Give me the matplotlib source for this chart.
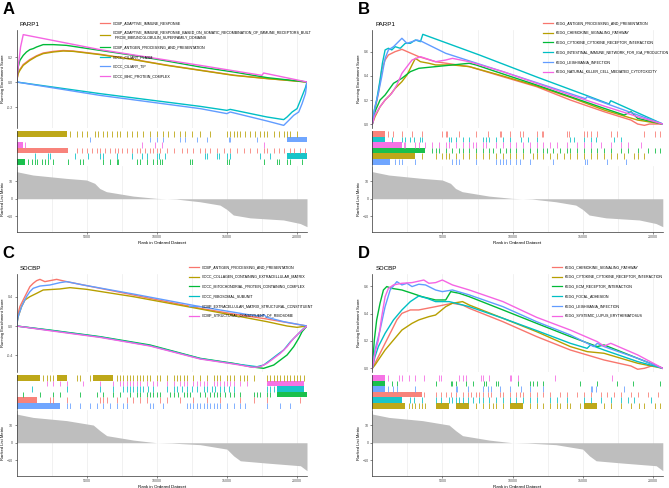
import matplotlib.pyplot as plt
from matplotlib.lines import Line2D

plt.rcParams['font.family'] = ['Liberation Sans', 'DejaVu Sans']

W, H = 669, 488
n_genes = 20700
hue = ['#F8766D', '#B79F00', '#00BA38', '#00BFC4', '#619CFF', '#F564E3']

# ranked list metric (same ranking used for the gene's two panels)
parp1_rank = [0, 1170, 3550, 4980, 5570, 5930, 6400, 8310, 9980, 10690, 11400, 13070, 14500, 14980, 15450, 16640, 19020, 20210, 20700]
parp1_metric = [15.3, 13.4, 11.5, 10.6, 8.7, 5.8, 4.0, 1.5, 0.2, 0, -0.2, -1.7, -3.6, -6, -9.2, -10.8, -12, -14, -15.8]
sdcbp_rank = [0, 1190, 3570, 5470, 5950, 6430, 8330, 9520, 10000, 11070, 13090, 14990, 15470, 15950, 17850, 20230, 20700]
sdcbp_metric = [16.2, 14.3, 12.5, 10.0, 6.8, 4.0, 1.5, 0.4, 0, -0.2, -1.1, -3.6, -7.4, -10.2, -11.5, -13, -15.8]

# ---------------- panel A ----------------
a_names = ['GOBP_ADAPTIVE_IMMUNE_RESPONSE',
           'GOBP_ADAPTIVE_IMMUNE_RESPONSE_BASED_ON_SOMATIC_RECOMBINATION_OF_IMMUNE_RECEPTORS_BUILT\n  FROM_IMMUNOGLOBULIN_SUPERFAMILY_DOMAINS',
           'GOBP_ANTIGEN_PROCESSING_AND_PRESENTATION',
           'GOCC_CILIARY_PLASM',
           'GOCC_CILIARY_TIP',
           'GOCC_MHC_PROTEIN_COMPLEX']
a_es_red = [(0, 0), (120, 0.075), (240, 0.1), (480, 0.14), (950, 0.18), (1430, 0.21), (1900, 0.232), (2620, 0.245), (3330, 0.252), (4040, 0.248), (5950, 0.222), (8330, 0.181), (10710, 0.135), (13090, 0.095), (15470, 0.055), (17850, 0.028), (20700, 0)]
a_es_gold = [(0, 0), (120, 0.067), (240, 0.093), (480, 0.133), (950, 0.173), (1430, 0.205), (1900, 0.227), (2620, 0.24), (3330, 0.248), (4040, 0.245), (5950, 0.219), (8330, 0.179), (10710, 0.133), (13090, 0.093), (15470, 0.053), (17850, 0.027), (20700, 0)]
a_es_green = [(0, 0), (120, 0.12), (240, 0.173), (480, 0.213), (710, 0.24), (950, 0.259), (1190, 0.267), (1430, 0.28), (1900, 0.299), (2620, 0.299), (3570, 0.293), (5950, 0.253), (8330, 0.213), (10710, 0.168), (13090, 0.12), (15470, 0.08), (17850, 0.035), (20700, 0)]
a_es_cyan = [(0, 0), (5950, -0.093), (13090, -0.195), (14990, -0.227), (15230, -0.219), (17850, -0.28), (19040, -0.301), (19280, -0.28), (19640, -0.24), (19990, -0.213), (20230, -0.147), (20590, -0.045), (20700, 0)]
a_es_blue = [(0, 0), (5950, -0.107), (13090, -0.213), (14990, -0.253), (15230, -0.24), (17850, -0.312), (19040, -0.347), (19400, -0.307), (19750, -0.267), (20110, -0.24), (20350, -0.173), (20590, -0.093), (20700, 0)]
a_es_pink = [(0, 0), (120, 0.12), (290, 0.28), (480, 0.379), (5950, 0.259), (13090, 0.133), (17490, 0.053), (17610, 0.072), (20700, 0)]
a_hit_red = [4280, 4640, 5000, 5360, 5710, 5950, 6310, 6660, 7020, 7260, 7500, 7850, 8210, 8570, 8810, 9160, 9520, 9760, 10000, 10230, 10710, 11190, 11780, 12140, 12610, 13090, 13450, 13800, 14280, 14760, 15230, 15710, 16180, 16660, 17140, 17610, 17850, 18330, 18680, 19040, 19520, 19750, 20230, 20590]
a_hit_gold = [3810, 4280, 4640, 5050, 5590, 5830, 6190, 6430, 6780, 7140, 7380, 7850, 8210, 8570, 9040, 9520, 10000, 10470, 10830, 11190, 11660, 12020, 12500, 13090, 13800, 14990, 15230, 15470, 15710, 15950, 16300, 16660, 17020, 17370, 17610, 17850, 18330, 18680, 19040, 19280, 19520, 19990, 20700]
a_hit_green = [830, 1070, 1310, 1430, 1790, 2020, 2260, 2620, 3690, 4520, 4760, 6190, 6660, 7140, 7260, 8570, 8810, 9280, 9760, 10000, 10230, 10350, 12380, 12500, 14990, 15110, 17610, 18560, 18680, 19280, 19520, 20350]
a_hit_cyan = [1310, 2260, 2380, 4170, 5120, 5950, 6190, 7140, 8210, 8930, 9280, 10000, 10120, 10590, 13450, 13570, 14280, 14400, 14990, 15230, 17370, 18090]
a_hit_blue = [5240, 9520, 10000, 10470, 11660, 12020, 12850, 13570, 15110, 15230, 17140]
a_hit_pink = [600, 8930, 9880, 10350, 17610]
a_span = [[(0, 3690)], [(0, 3570)], [(0, 600)], [(19280, 20700)], [(19280, 20700)], [(0, 476)]]

# ---------------- panel B ----------------
b_names = ['KEGG_ANTIGEN_PROCESSING_AND_PRESENTATION',
           'KEGG_CHEMOKINE_SIGNALING_PATHWAY',
           'KEGG_CYTOKINE_CYTOKINE_RECEPTOR_INTERACTION',
           'KEGG_INTESTINAL_IMMUNE_NETWORK_FOR_IGA_PRODUCTION',
           'KEGG_LEISHMANIA_INFECTION',
           'KEGG_NATURAL_KILLER_CELL_MEDIATED_CYTOTOXICITY']
b_es_red = [(0, 0), (192, 0.117), (432, 0.256), (672, 0.45), (912, 0.533), (1150, 0.575), (1630, 0.603), (2110, 0.622), (3310, 0.561), (4510, 0.519), (6910, 0.478), (9310, 0.394), (11710, 0.311), (14110, 0.2), (16510, 0.103), (18430, 0.033), (18910, 0), (19390, -0.011), (19750, 0), (20700, 0)]
b_es_gold = [(0, 0), (192, 0.061), (552, 0.144), (912, 0.2), (1270, 0.242), (1630, 0.297), (2110, 0.353), (2470, 0.408), (2830, 0.492), (3070, 0.547), (3430, 0.519), (4030, 0.506), (4510, 0.492), (5710, 0.492), (6910, 0.478), (9310, 0.4), (11710, 0.317), (14110, 0.222), (16510, 0.117), (18910, 0.033), (20700, 0)]
b_es_green = [(0, 0), (192, 0.103), (552, 0.2), (912, 0.242), (1510, 0.339), (2110, 0.381), (2710, 0.436), (3310, 0.464), (4510, 0.478), (5710, 0.492), (6910, 0.506), (7390, 0.492), (9310, 0.417), (11710, 0.325), (14110, 0.228), (16510, 0.131), (17950, 0.075), (18430, 0.103), (18910, 0.047), (20700, 0)]
b_es_cyan = [(0, 0), (144, 0.117), (312, 0.2), (552, 0.367), (720, 0.506), (912, 0.617), (1150, 0.631), (1390, 0.617), (1630, 0.644), (1990, 0.631), (2350, 0.672), (2710, 0.672), (3070, 0.7), (3430, 0.686), (3600, 0.747), (7630, 0.575), (11710, 0.392), (15310, 0.236), (16870, 0.167), (16990, 0.194), (20700, 0)]
b_es_blue = [(0, 0), (192, 0.144), (432, 0.256), (672, 0.394), (912, 0.547), (1150, 0.617), (1510, 0.644), (1870, 0.686), (2110, 0.714), (2470, 0.672), (2830, 0.686), (3190, 0.7), (3550, 0.686), (5230, 0.589), (9310, 0.436), (14110, 0.253), (15190, 0.211), (15310, 0.228), (20700, 0)]
b_es_pink = [(0, 0), (192, 0.075), (552, 0.144), (912, 0.2), (1390, 0.256), (1750, 0.325), (2110, 0.422), (2470, 0.478), (2830, 0.533), (3430, 0.561), (3790, 0.547), (4510, 0.519), (5230, 0.533), (5710, 0.547), (6910, 0.519), (9310, 0.436), (11710, 0.339), (14110, 0.242), (16510, 0.15), (18910, 0.061), (20700, 0)]
b_hit_red = [1150, 1510, 2110, 2830, 3550, 4990, 5230, 5350, 6190, 7390, 8230, 9070, 9190, 9790, 10510, 10750, 11710, 12070, 12190, 13870, 13990, 15070, 15310, 15550, 16030, 16990, 17470, 19390, 20110, 20470]
b_hit_gold = [3550, 4510, 4990, 5230, 5470, 5950, 6430, 6910, 7390, 7870, 8350, 8830, 9310, 9790, 10270, 10750, 11470, 11710, 12190, 12670, 13150, 13630, 14110, 14590, 15070, 15550, 16030, 16510, 16990, 17470, 17950, 18670, 18910, 19390]
b_hit_green = [4270, 4510, 4750, 5230, 5710, 6190, 6430, 6910, 7390, 7870, 8350, 8590, 9070, 9550, 9790, 10270, 10750, 11230, 11710, 12190, 12430, 12910, 13390, 13870, 14110, 14590, 15070, 15550, 16030, 16510, 16990, 17710, 18190, 18910, 19630, 20110, 20470, 20700]
b_hit_cyan = [1390, 2110, 2350, 2710, 2950, 3430, 3550, 5470, 5590, 5950, 6430, 6910, 7870, 8110, 8350, 8830, 9310, 9790, 10630, 11110, 11710, 14110, 14350, 15070, 15550, 15910, 17230, 17710]
b_hit_blue = [1630, 1870, 2110, 3070, 5710, 5950, 6190, 7390, 8830, 9070, 9310, 9550, 9790, 10270, 10510, 11230, 12910, 15190, 15310, 16750, 18070]
b_hit_pink = [2230, 2350, 3070, 3310, 3790, 4270, 4750, 5230, 5470, 5950, 6430, 6910, 7150, 7390, 7870, 8110, 8830, 9310, 9790, 10270, 10750, 11230, 11710, 12190, 12670, 13150, 13870, 14590, 15070, 15550, 16270, 16990, 17710, 18190, 19150]
b_span = [[(0, 910)], [(0, 3070)], [(0, 3790)], [(0, 910)], [(0, 1270)], [(0, 2110)]]

# ---------------- panel C ----------------
c_names = ['GOBP_ANTIGEN_PROCESSING_AND_PRESENTATION',
           'GOCC_COLLAGEN_CONTAINING_EXTRACELLULAR_MATRIX',
           'GOCC_MITOCHONDRIAL_PROTEIN_CONTAINING_COMPLEX',
           'GOCC_RIBOSOMAL_SUBUNIT',
           'GOMF_EXTRACELLULAR_MATRIX_STRUCTURAL_CONSTITUENT',
           'GOMF_STRUCTURAL_CONSTITUENT_OF_RIBOSOME']
c_es_red = [(0, 0), (119, 0.173), (238, 0.264), (476, 0.355), (714, 0.445), (952, 0.536), (1190, 0.582), (1430, 0.618), (1670, 0.636), (2020, 0.605), (2380, 0.618), (2860, 0.636), (3570, 0.605), (5950, 0.514), (8330, 0.423), (10710, 0.332), (13090, 0.241), (15470, 0.164), (17850, 0.095), (20700, 0)]
c_es_gold = [(0, 0), (119, 0.127), (360, 0.264), (600, 0.355), (952, 0.4), (1430, 0.445), (1900, 0.491), (3090, 0.505), (3810, 0.523), (5000, 0.5), (8330, 0.4), (13090, 0.232), (17850, 0.059), (19280, 0), (19990, -0.018), (20700, 0)]
c_es_green = [(0, 0), (2380, -0.055), (5950, -0.145), (9520, -0.259), (13090, -0.441), (15470, -0.509), (16660, -0.555), (17610, -0.577), (18330, -0.532), (18800, -0.464), (19280, -0.395), (19750, -0.282), (20110, -0.168), (20350, -0.077), (20700, 0)]
c_es_cyan = [(0, 0), (2380, -0.059), (5950, -0.15), (9520, -0.268), (13090, -0.445), (15470, -0.514), (17140, -0.555), (17610, -0.532), (18090, -0.464), (18560, -0.395), (19040, -0.327), (19520, -0.214), (19990, -0.123), (20470, -0.032), (20700, 0)]
c_es_blue = [(0, 0), (119, 0.127), (360, 0.264), (714, 0.4), (952, 0.468), (1190, 0.514), (1670, 0.545), (2380, 0.559), (3090, 0.591), (3570, 0.605), (4760, 0.559), (8330, 0.436), (13090, 0.264), (16660, 0.15), (17370, 0.136), (17610, 0.155), (17850, 0.118), (19040, 0.059), (20700, 0)]
c_es_pink = [(0, 0), (2380, -0.064), (5950, -0.155), (9520, -0.273), (13090, -0.45), (15470, -0.518), (16900, -0.564), (17370, -0.555), (17850, -0.509), (18330, -0.441), (18800, -0.373), (19280, -0.282), (19750, -0.168), (20230, -0.077), (20700, 0)]
c_hit_red = [2380, 2620, 3570, 5950, 6190, 6430, 7140, 7850, 8330, 8810, 9280, 10230, 10710, 11660, 12610, 13570, 14520, 15950, 16900, 17850, 20230]
c_hit_gold = [1900, 2140, 2380, 2620, 4280, 4520, 5240, 7140, 7380, 7620, 7850, 8090, 8330, 8570, 8810, 9040, 9280, 9520, 10000, 10230, 10710, 11190, 11420, 11660, 11900, 12140, 12610, 13090, 13570, 14040, 14280, 14520, 14990, 15230, 15470, 15950, 16180, 16420, 16900, 17850, 18090, 18330, 18560, 18800, 19040, 19280, 19520, 19750, 19990, 20230, 20470, 20700]
c_hit_green = [480, 1670, 2620, 3090, 4520, 5710, 6190, 6900, 7380, 8090, 8570, 8810, 9280, 9520, 9760, 10000, 10230, 10950, 11190, 11540, 11900, 12140, 12380, 13090, 13450, 13800, 14040, 14280, 14520, 14880, 15230, 15470, 15950, 16900, 17140, 17370, 17850, 18090]
c_hit_cyan = [1070, 3570, 5950, 6900, 7620, 7850, 8090, 8330, 8570, 8810, 9040, 9400, 9760, 10710, 11190, 11420, 11780, 12140, 12500, 12850, 13330, 13570, 13920, 14160, 14520, 14760, 15110, 15470, 17850, 18090, 18330]
c_hit_blue = [3570, 3810, 4520, 5240, 5710, 6190, 6660, 7140, 7620, 7850, 9520, 9760, 10470, 12140, 12380, 12610, 12850, 13090, 13330, 13570, 13800, 14040, 14280, 14520, 14990, 15470, 15950, 16300, 17850, 18800, 19520]
c_hit_pink = [2140, 2620, 3090, 3570, 4760, 5950, 6900, 7380, 7620, 7850, 8090, 8330, 8570, 8810, 9280, 9760, 10000, 10710, 11190, 11660, 11900, 12140, 12610, 12850, 13090, 13330, 13570, 14040, 14280, 14520, 14760, 14990, 15230, 15470, 15950, 16420]
c_span = [[(0, 1430)], [(0, 1670), (2860, 3570), (5470, 6900)], [(18560, 20700)], [(18560, 20470)], [(0, 3090)], [(17850, 20470)]]

# ---------------- panel D ----------------
d_names = ['KEGG_CHEMOKINE_SIGNALING_PATHWAY',
           'KEGG_CYTOKINE_CYTOKINE_RECEPTOR_INTERACTION',
           'KEGG_ECM_RECEPTOR_INTERACTION',
           'KEGG_FOCAL_ADHESION',
           'KEGG_LEISHMANIA_INFECTION',
           'KEGG_SYSTEMIC_LUPUS_ERYTHEMATOSUS']
d_es_red = [(0, 0), (192, 0.037), (432, 0.085), (912, 0.183), (1390, 0.28), (1750, 0.354), (2110, 0.402), (2710, 0.427), (3310, 0.427), (4510, 0.451), (5710, 0.476), (6430, 0.463), (6910, 0.439), (9310, 0.341), (11710, 0.232), (14110, 0.134), (16510, 0.061), (18430, 0.017), (18910, -0.007), (19390, 0), (20110, 0.024), (20700, 0)]
d_es_gold = [(0, 0), (192, 0.024), (432, 0.061), (912, 0.134), (1510, 0.207), (2110, 0.28), (2830, 0.329), (3310, 0.354), (4030, 0.378), (4510, 0.39), (5230, 0.451), (5710, 0.476), (6430, 0.488), (6910, 0.463), (9310, 0.366), (11710, 0.268), (14110, 0.159), (15310, 0.122), (16510, 0.11), (18910, 0.037), (20700, 0)]
d_es_green = [(0, 0), (144, 0.207), (312, 0.354), (552, 0.476), (792, 0.573), (1030, 0.598), (1390, 0.585), (2110, 0.573), (2830, 0.549), (3550, 0.524), (4510, 0.5), (5230, 0.5), (5590, 0.561), (6190, 0.549), (6910, 0.524), (9310, 0.427), (11710, 0.329), (14110, 0.232), (16030, 0.159), (16510, 0.171), (18910, 0.073), (20700, 0)]
d_es_cyan = [(0, 0), (192, 0.085), (432, 0.159), (912, 0.256), (1510, 0.354), (2110, 0.427), (2710, 0.488), (3310, 0.529), (3910, 0.512), (4510, 0.488), (5470, 0.488), (5950, 0.476), (6910, 0.451), (9310, 0.366), (11710, 0.276), (14110, 0.183), (15310, 0.146), (15550, 0.171), (16510, 0.134), (18910, 0.049), (20700, 0)]
d_es_blue = [(0, 0), (192, 0.134), (552, 0.28), (912, 0.451), (1270, 0.573), (1750, 0.634), (2110, 0.61), (2470, 0.622), (2830, 0.598), (3310, 0.615), (3790, 0.61), (4510, 0.573), (4990, 0.561), (5710, 0.573), (6910, 0.537), (9310, 0.451), (11710, 0.341), (14110, 0.244), (15790, 0.159), (16030, 0.183), (16510, 0.159), (18910, 0.073), (20700, 0)]
d_es_pink = [(0, 0), (192, 0.11), (432, 0.207), (672, 0.378), (912, 0.524), (1150, 0.585), (1510, 0.61), (2110, 0.622), (2830, 0.627), (3670, 0.646), (4030, 0.622), (4510, 0.627), (4990, 0.646), (5710, 0.61), (6910, 0.573), (9310, 0.488), (11710, 0.373), (14110, 0.28), (16030, 0.195), (16510, 0.163), (16990, 0.183), (18910, 0.098), (20700, 0)]
d_hit_red = [3670, 4510, 4870, 5230, 5590, 5950, 6430, 6790, 7030, 7390, 7630, 7870, 8230, 8470, 9070, 9310, 9790, 10270, 10510, 10750, 11230, 11710, 12190, 12670, 13390, 13870, 14590, 15070, 15550, 16270, 16750, 17230, 17710, 18430, 18910, 19630, 20350]
d_hit_gold = [2590, 2830, 3070, 3310, 3550, 3790, 7390, 7870, 8350, 8590, 8830, 9310, 11230, 11710, 12190, 12670, 13150, 13390, 13870, 14110, 14830, 16510, 16990, 17710, 18430, 19030, 19390, 20110, 20470]
d_hit_green = [1390, 1750, 4510, 5590, 5710, 5950, 6670, 7150, 7990, 8110, 8830, 8950, 10390, 11230, 11470, 11710, 12190, 14830, 16030, 17470, 18550, 20470]
d_hit_cyan = [2710, 2950, 3550, 4510, 4870, 5470, 5710, 5950, 6190, 6430, 6790, 7150, 7630, 7870, 8350, 8830, 9310, 9790, 10270, 10750, 11230, 11710, 12670, 13150, 13870, 15070, 15550, 16270, 16990, 17710, 18190, 18670, 19870]
d_hit_blue = [1150, 1510, 1750, 3070, 5950, 6070, 6790, 7870, 8230, 8470, 9070, 9790, 10630, 11230, 12190, 15550, 15670, 15910, 17950]
d_hit_pink = [1150, 1870, 2110, 2590, 3070, 3670, 4750, 4870, 6190, 6430, 6670, 7750, 7870, 8350, 9790, 9910, 10390, 13030, 17110]
d_span = [[(0, 3550)], [(0, 2350), (4510, 5470), (5950, 6910), (9790, 10750), (15070, 16030)], [(0, 910)], [(0, 2110)], [(0, 910)], [(0, 910)]]

fig = plt.figure(figsize=(6.69, 4.88), dpi=100)


def px_axes(x0, y0, x1, y1):
    return fig.add_axes([x0 / W, 1 - y1 / H, (x1 - x0) / W, (y1 - y0) / H])


def small_ticks(ax):
    ax.tick_params(axis='both', labelsize=2.6, labelcolor='#4D4D4D', length=1.5, width=0.4,
                   color='#333333', pad=1)


def draw_panel(ax_left, top, letter, gene, names, es, hits, spans, order,
               m_rank, m_val, es_lim, es_ticks, leg_x):
    right = ax_left + 290.5

    # running enrichment score
    ax1 = px_axes(ax_left, top + 30, right, top + 128)
    for i in range(6):
        ax1.plot([p[0] for p in es[i]], [p[1] for p in es[i]], color=hue[i], lw=1.0)
    ax1.set_xlim(0, n_genes)
    ax1.set_ylim(*es_lim)
    ax1.set_yticks(es_ticks)
    ax1.set_yticklabels(['%.1f' % t for t in es_ticks])
    ax1.set_xticks(range(0, 20001, 5000))
    ax1.set_xticks(range(2500, 20001, 5000), minor=True)
    ax1.grid(axis='x', which='both', color='#EBEBEB', lw=0.5)
    ax1.set_axisbelow(True)
    small_ticks(ax1)
    ax1.tick_params(axis='x', which='both', length=0, labelbottom=False)
    for s in ['top', 'right', 'bottom']:
        ax1.spines[s].set_visible(False)
    ax1.spines['left'].set_linewidth(0.5)
    ax1.spines['left'].set_color('#333333')
    ax1.set_ylabel('Running Enrichment Score', fontsize=3.0)
    ax1.yaxis.set_label_coords(-0.04, 0.5)

    # gene hits rug
    ax2 = px_axes(ax_left, top + 131, right, top + 164.5)
    for row, i in enumerate(order):
        y0 = 5 - row
        ax2.vlines(hits[i], y0, y0 + 1, color=hue[i], lw=0.65, alpha=0.85)
        ax2.broken_barh([(a, b - a) for a, b in spans[i]], (y0, 1), color=hue[i], lw=0, alpha=0.9)
    ax2.set_xlim(0, n_genes)
    ax2.set_ylim(0, 6)
    ax2.set_xticks([])
    ax2.set_yticks([])
    for s in ['top', 'right', 'bottom']:
        ax2.spines[s].set_visible(False)
    ax2.spines['left'].set_linewidth(0.5)
    ax2.spines['left'].set_color('#333333')

    # ranked list metric
    ax3 = px_axes(ax_left, top + 166, right, top + 232)
    ax3.fill_between(m_rank, m_val, 0, color='#BEBEBE', lw=0)
    ax3.set_xlim(0, n_genes)
    ax3.set_ylim(-18.8, 18.5)
    ax3.set_yticks([-10, 0, 10])
    ax3.set_xticks(range(5000, 20001, 5000))
    ax3.set_xticks(range(2500, 20001, 5000), minor=True)
    ax3.grid(axis='x', which='both', color='#EBEBEB', lw=0.5)
    ax3.set_axisbelow(True)
    small_ticks(ax3)
    ax3.tick_params(axis='x', which='minor', length=0)
    for s in ['top', 'right']:
        ax3.spines[s].set_visible(False)
    for s in ['left', 'bottom']:
        ax3.spines[s].set_linewidth(0.5)
        ax3.spines[s].set_color('#333333')
    ax3.set_ylabel('Ranked List Metric', fontsize=3.0)
    ax3.yaxis.set_label_coords(-0.04, 0.5)
    ax3.set_xlabel('Rank in Ordered Dataset', fontsize=3.2, labelpad=1)

    # texts
    fig.text((ax_left - 14) / W, 1 - (top + 9.5) / H, letter, fontsize=12,
             fontweight='bold', va='center', ha='left')
    fig.text((ax_left + 3) / W, 1 - (top + 24.5) / H, gene, fontsize=4.5,
             va='center', ha='left')

    handles = [Line2D([], [], color=c, lw=0.9) for c in hue]
    fig.legend(handles, names, loc='upper left', bbox_to_anchor=(leg_x / W, 1 - (top + 21) / H),
               frameon=False, fontsize=2.6, handlelength=2.8, handletextpad=0.8,
               labelspacing=1.6, borderpad=0, borderaxespad=0)


draw_panel(16.5, 0, 'A', 'PARP1', a_names,
           [a_es_red, a_es_gold, a_es_green, a_es_cyan, a_es_blue, a_es_pink],
           [a_hit_red, a_hit_gold, a_hit_green, a_hit_cyan, a_hit_blue, a_hit_pink],
           a_span, [1, 4, 5, 0, 3, 2], parp1_rank, parp1_metric,
           (-0.368, 0.416), [-0.2, 0.0, 0.2], 100)
draw_panel(372.3, 0, 'B', 'PARP1', b_names,
           [b_es_red, b_es_gold, b_es_green, b_es_cyan, b_es_blue, b_es_pink],
           [b_hit_red, b_hit_gold, b_hit_green, b_hit_cyan, b_hit_blue, b_hit_pink],
           b_span, [0, 3, 5, 2, 1, 4], parp1_rank, parp1_metric,
           (-0.033, 0.783), [0.0, 0.2, 0.4, 0.6], 543)
draw_panel(16.5, 244, 'C', 'SDCBP', c_names,
           [c_es_red, c_es_gold, c_es_green, c_es_cyan, c_es_blue, c_es_pink],
           [c_hit_red, c_hit_gold, c_hit_green, c_hit_cyan, c_hit_blue, c_hit_pink],
           c_span, [1, 5, 3, 2, 0, 4], sdcbp_rank, sdcbp_metric,
           (-0.627, 0.709), [-0.4, 0.0, 0.4], 189)
draw_panel(372.3, 244, 'D', 'SDCBP', d_names,
           [d_es_red, d_es_gold, d_es_green, d_es_cyan, d_es_blue, d_es_pink],
           [d_hit_red, d_hit_gold, d_hit_green, d_hit_cyan, d_hit_blue, d_hit_pink],
           d_span, [5, 2, 4, 0, 3, 1], sdcbp_rank, sdcbp_metric,
           (-0.027, 0.69), [0.0, 0.2, 0.4, 0.6], 552)

fig.savefig('out.png', dpi=100)
